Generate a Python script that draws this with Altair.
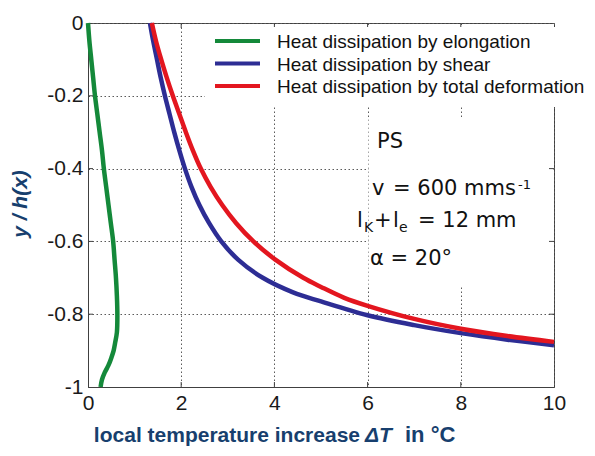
import altair as alt
import pandas as pd

# ---- data ----
green_x = [0.0, 0.03, 0.07, 0.11, 0.15, 0.20, 0.25, 0.30, 0.34, 0.39, 0.44, 0.49, 0.54,
           0.57, 0.60, 0.62, 0.63, 0.62, 0.58, 0.55, 0.50, 0.44, 0.36, 0.30, 0.27]
green_y = [0.0, -0.05, -0.10, -0.15, -0.20, -0.25, -0.30, -0.35, -0.40, -0.45, -0.50, -0.55, -0.60,
           -0.65, -0.70, -0.75, -0.80, -0.85, -0.88, -0.90, -0.92, -0.94, -0.96, -0.98, -1.0]

blue_x = [1.33, 1.40, 1.48, 1.56, 1.65, 1.75, 1.85, 1.96, 2.08, 2.22, 2.39, 2.60, 2.86,
          3.22, 3.75, 4.40, 5.0, 6.0, 7.0, 8.0, 9.0, 10.0]
blue_y = [0.0, -0.05, -0.10, -0.15, -0.20, -0.25, -0.30, -0.35, -0.40, -0.45, -0.50, -0.55, -0.60,
          -0.65, -0.70, -0.74, -0.765, -0.803, -0.83, -0.852, -0.87, -0.885]

red_x = [1.37, 1.46, 1.57, 1.69, 1.82, 1.96, 2.10, 2.25, 2.42, 2.63, 2.88, 3.18, 3.55,
         4.02, 4.62, 5.0, 5.5, 6.0, 7.0, 8.0, 9.0, 10.0]
red_y = [0.0, -0.05, -0.10, -0.15, -0.20, -0.25, -0.30, -0.35, -0.40, -0.45, -0.50, -0.55, -0.60,
         -0.65, -0.70, -0.725, -0.755, -0.777, -0.813, -0.84, -0.86, -0.876]

series = ["Heat dissipation by elongation", "Heat dissipation by shear",
          "Heat dissipation by total deformation"]
colors = ["#14893a", "#2d2d94", "#e3161f"]

x_ticks = [0, 2, 4, 6, 8, 10]
y_ticks = [-1, -0.8, -0.6, -0.4, -0.2, 0]

W, H = 466, 364

rows = []
for name, xs, ys in zip(series, [green_x, blue_x, red_x], [green_y, blue_y, red_y]):
    for i, (a, b) in enumerate(zip(xs, ys)):
        rows.append({"series": name, "x": a, "y": b, "i": i})
df = pd.DataFrame(rows)

xscale = alt.Scale(domain=[0, 10], nice=False, zero=False)
yscale = alt.Scale(domain=[-1, 0], nice=False, zero=False)

FONT = "Liberation Sans"
AFONT = "DejaVu Sans"
TITLE_COLOR = "#173f6e"

grid_style = dict(grid=True, gridDash=[1.5, 2.5], gridColor="#5a5a5a", gridWidth=1,
                  ticks=False, labelFont=FONT, labelColor="#1a1a1a",
                  domainColor="#404040", domainWidth=1, title=None, labelFlush=False)

base = alt.Chart(df).encode(
    x=alt.X("x:Q", scale=xscale,
            axis=alt.Axis(values=x_ticks, labelFontSize=21, labelPadding=5, **grid_style)),
    y=alt.Y("y:Q", scale=yscale,
            axis=alt.Axis(values=y_ticks, labelFontSize=21, labelPadding=5,
                          labelExpr="datum.value == 0 ? '0' : datum.value == -1 ? '-1' : '-' + format(-datum.value, '.1f')",
                          **grid_style)),
)

# white annotation box that hides the grid (as in the original)
box_df = pd.DataFrame({"x": [6.02], "x2": [9.99], "y": [-0.262], "y2": [-0.72]})
ann_box = alt.Chart(box_df).mark_rect(color="white").encode(
    x=alt.X("x:Q", scale=xscale), x2="x2:Q",
    y=alt.Y("y:Q", scale=yscale), y2="y2:Q")

lines = base.mark_line(strokeWidth=4.5, interpolate="catmull-rom").encode(
    color=alt.Color("series:N", scale=alt.Scale(domain=series, range=colors), legend=None),
    order="i:Q",
)

# inward ticks on all four sides
xt = pd.DataFrame({"v": [2, 4, 6, 8]})
yt = pd.DataFrame({"v": [-0.8, -0.6, -0.4, -0.2]})
tick_style = dict(color="#404040", strokeWidth=1)
ticks_b = alt.Chart(xt).mark_rule(**tick_style).encode(
    x=alt.X("v:Q", scale=xscale), y=alt.value(H), y2=alt.value(H - 5))
ticks_t = alt.Chart(xt).mark_rule(**tick_style).encode(
    x=alt.X("v:Q", scale=xscale), y=alt.value(0), y2=alt.value(5))
ticks_l = alt.Chart(yt).mark_rule(**tick_style).encode(
    y=alt.Y("v:Q", scale=yscale), x=alt.value(0), x2=alt.value(5))
ticks_r = alt.Chart(yt).mark_rule(**tick_style).encode(
    y=alt.Y("v:Q", scale=yscale), x=alt.value(W), x2=alt.value(W - 5))

one = pd.DataFrame({"k": [0]})

# legend (drawn by hand, white box like the MATLAB one)
legend_layers = [
    alt.Chart(one).mark_rect(color="white").encode(
        x=alt.value(117), x2=alt.value(510), y=alt.value(4), y2=alt.value(84))
]
for k, (name, col) in enumerate(zip(series, colors)):
    yy = 18 + 22.5 * k
    legend_layers.append(
        alt.Chart(one).mark_rule(color=col, strokeWidth=4).encode(
            x=alt.value(127), x2=alt.value(172), y=alt.value(yy)))
    legend_layers.append(
        alt.Chart(one).mark_text(text=name, align="left", baseline="middle",
                                 fontSize=19, font=FONT, color="#111").encode(
            x=alt.value(189), y=alt.value(yy + 1)))


def txt(s, x, y, size=21, **kw):
    return alt.Chart(one).mark_text(text=s, align=kw.pop("align", "left"),
                                    baseline=kw.pop("baseline", "alphabetic"),
                                    fontSize=size, font=kw.pop("font", AFONT),
                                    color=kw.pop("color", "#111"), **kw).encode(
        x=alt.value(x), y=alt.value(y))


annot = [
    txt("PS", 289, 125),
    txt("v", 284, 172),
    txt("= 600 mms", 305, 172),
    txt("-1", 430, 166, size=13),
    txt("l", 269, 204),
    txt("K", 276, 209, size=14),
    txt("+", 286, 204),
    txt("l", 305, 204),
    txt("e", 311, 209, size=14),
    txt("= 12 mm", 330, 204),
    txt("α = 20°", 282, 242),
]

titles = [
    txt("local temperature increase", 272, 419, size=21, fontWeight="bold",
        color=TITLE_COLOR, align="right", font=FONT),
    txt("ΔT", 277, 419, size=21, fontWeight="bold", fontStyle="italic", color=TITLE_COLOR,
        font=FONT),
    txt("in °C", 317, 419, size=22, fontWeight="bold", color=TITLE_COLOR, font=FONT),
    txt("y / h(x)", -67, 181, size=21, fontWeight="bold", fontStyle="italic",
        color=TITLE_COLOR, align="center", baseline="middle", angle=270, font=FONT),
]

chart = alt.layer(
    base.mark_point(opacity=0),  # axes/grid holder
    ann_box,
    lines,
    ticks_b, ticks_t, ticks_l, ticks_r,
    *legend_layers,
    *annot,
    *titles,
).properties(
    width=W, height=H,
    autosize=alt.AutoSizeParams(type="none"),
    padding={"left": 80, "top": 15, "right": 33, "bottom": 61},
).configure_view(
    stroke="#404040", strokeWidth=1
)

chart.save("out.html", embed_options={"renderer": "svg", "actions": False})
